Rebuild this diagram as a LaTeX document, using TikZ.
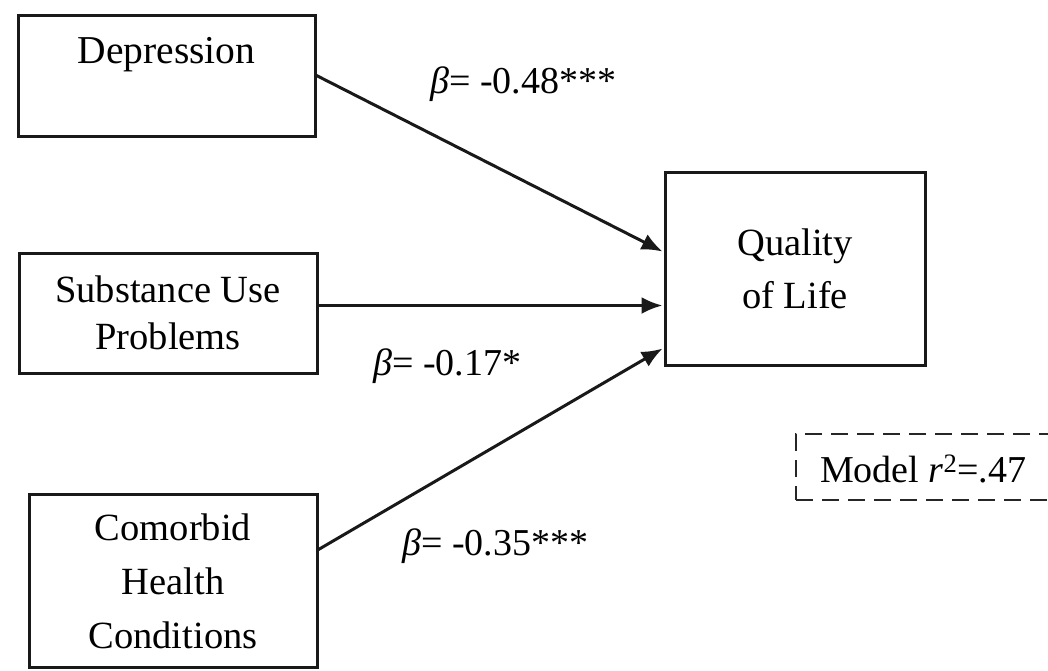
\documentclass[tikz,border=0pt]{standalone}
\usepackage{fontspec}
\setmainfont{Liberation Serif}
\usetikzlibrary{arrows.meta}
\begin{document}
\begin{tikzpicture}[x=1pt,y=-1pt,
  box/.style={draw=black!90, line width=3pt, rectangle, inner sep=0pt, align=center,
    font=\fontsize{38.5}{50}\selectfont},
  txt/.style={inner sep=0pt, font=\fontsize{38}{50}\selectfont},
  arr/.style={draw=black!90, line width=3pt, -{Latex[length=21pt,width=17pt]}, shorten >=1pt},
  dashbox/.style={draw=black!85, line width=2.5pt, dash pattern=on 17pt off 9pt, rectangle, inner sep=0pt}]
\useasboundingbox (0,0) rectangle (1048,670);
\node[box, minimum width=297, minimum height=121] (dep) at (166.5,75.5) {};
\node[txt, anchor=base, font=\fontsize{39.5}{50}\selectfont] (depT) at (166.5,63) {Depression};
\node[box, minimum width=298, minimum height=120, font=\fontsize{38.5}{47}\selectfont] (sub) at (168,313) {Substance Use\\Problems};
\node[box, minimum width=288, minimum height=173, font=\fontsize{38.5}{54}\selectfont] (com) at (173,581) {Comorbid\\Health\\Conditions};
\node[box, minimum width=260, minimum height=193, font=\fontsize{38.5}{53}\selectfont] (ql) at (795,268.5) {Quality\\of Life};
\node[dashbox, minimum width=266, minimum height=66] (model) at (929,467) {};
\node[txt, anchor=base west] (modelT) at (820,482) {Model {\itshape r}\textsuperscript{2}=.47};
\draw[arr] (dep.east) -- ([yshift=16.5pt]ql.west);
\draw[arr] ([yshift=7.5pt]sub.east) -- ([yshift=-37pt]ql.west);
\draw[arr] ([yshift=31.5pt]com.east) -- ([yshift=-79.5pt]ql.west);
\node[txt, anchor=base west] (b1) at (430,93) {{\itshape β}= -0.48***};
\node[txt, anchor=base west] (b2) at (373,375) {{\itshape β}= -0.17*};
\node[txt, anchor=base west] (b3) at (402,555) {{\itshape β}= -0.35***};
\end{tikzpicture}
\end{document}
